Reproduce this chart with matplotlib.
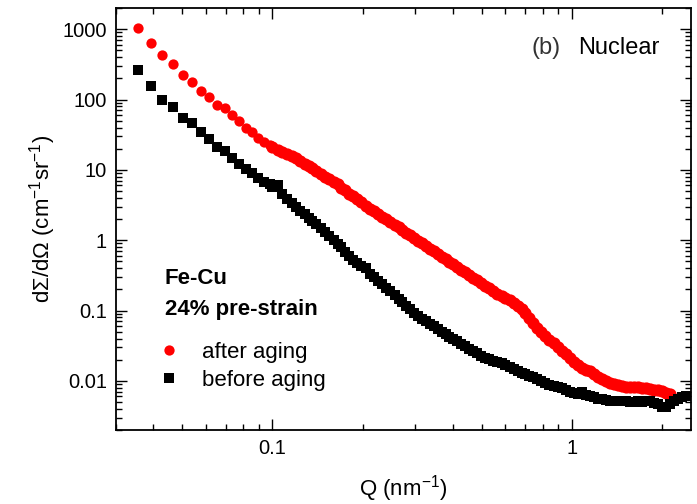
import matplotlib
matplotlib.use("Agg")
import matplotlib.pyplot as plt
from matplotlib.ticker import LogLocator, FuncFormatter, NullFormatter

plt.rcParams["font.family"] = ["Liberation Sans", "DejaVu Sans"]
plt.rcParams["mathtext.default"] = "regular"

# ── Data (Q in nm^-1, dSigma/dOmega in cm^-1 sr^-1) ──
q_low = [0.0355, 0.0392, 0.0428, 0.0466, 0.0503, 0.054, 0.0576, 0.0614, 0.0655,
         0.0694, 0.0734, 0.0773, 0.0814, 0.0855, 0.0895, 0.0935, 0.098]
q_high = [0.100, 0.104, 0.108, 0.112, 0.116, 0.120, 0.124, 0.128, 0.132, 0.136,
          0.140, 0.145, 0.150, 0.155, 0.160, 0.165, 0.170, 0.175, 0.180, 0.186,
          0.192, 0.198,
          0.205, 0.212, 0.219, 0.226, 0.233, 0.240, 0.248, 0.256, 0.264, 0.272,
          0.280, 0.289, 0.298, 0.307, 0.316, 0.326, 0.336, 0.346, 0.357, 0.368,
          0.379, 0.390,
          0.402, 0.415, 0.428, 0.441, 0.455, 0.469, 0.484, 0.499, 0.515, 0.531,
          0.548, 0.565, 0.583, 0.601, 0.620, 0.640, 0.660, 0.680, 0.700, 0.722,
          0.745, 0.768, 0.792,
          0.817, 0.843, 0.870, 0.897, 0.925, 0.954, 0.984, 1.015, 1.047, 1.080,
          1.114, 1.149, 1.185, 1.222, 1.260, 1.300, 1.341, 1.383, 1.426, 1.471,
          1.517, 1.565, 1.614, 1.665, 1.717, 1.771, 1.827, 1.884, 1.943, 2.004,
          2.067, 2.132, 2.199, 2.268, 2.339, 2.41]

after_low = [1047, 628, 428, 319, 222, 179, 133, 109, 83, 75, 60, 49, 40, 34,
             28.5, 25, 22.4]
after_high = [21.0, 19.3, 18.0, 16.8, 15.8, 14.6, 13.4, 12.3, 11.4, 10.6,
              9.6, 8.8, 8.0, 7.3, 6.7, 6.2, 5.6, 5.1, 4.6, 4.2,
              3.8, 3.5,
              3.08, 2.81, 2.56, 2.35, 2.16, 1.98, 1.81, 1.655, 1.52, 1.395,
              1.28, 1.17, 1.07, 0.983, 0.905, 0.827, 0.758, 0.696, 0.636, 0.582,
              0.535, 0.492,
              0.453, 0.414, 0.380, 0.349, 0.320, 0.294, 0.269, 0.247, 0.226, 0.207,
              0.190, 0.174, 0.160, 0.149, 0.139, 0.128, 0.117, 0.106, 0.091, 0.078,
              0.067, 0.057, 0.049,
              0.043, 0.038, 0.034, 0.030, 0.027, 0.024, 0.0210, 0.0186, 0.0167, 0.0152,
              0.0143, 0.0138, 0.0125, 0.0114, 0.0105, 0.0098, 0.0093, 0.0089, 0.0086, 0.0084,
              0.0082, 0.0082, 0.0081, 0.0081, 0.0080, 0.0078, 0.0076, 0.0075, 0.0074, 0.0071,
              0.0068, 0.0064]

before_low = [259, 157, 100, 79, 55, 46, 35, 27.3, 20.8, 18.4, 14.8, 12.3, 10.2,
              8.9, 7.55, 6.75, 6.2]
before_high = [5.7, 6.0, 4.6, 3.9, 3.4, 2.96, 2.63, 2.34, 2.09, 1.88,
               1.69, 1.49, 1.31, 1.15, 1.01, 0.89, 0.79, 0.67, 0.59, 0.53,
               0.47, 0.43,
               0.40, 0.332, 0.295, 0.263, 0.236, 0.212, 0.189, 0.166, 0.147, 0.131,
               0.117, 0.1036, 0.092, 0.083, 0.0765, 0.070, 0.0644, 0.0593, 0.0543, 0.0499,
               0.0459, 0.0424,
               0.0394, 0.0363, 0.0336, 0.0311, 0.0287, 0.0266, 0.0245, 0.0227, 0.021, 0.0203,
               0.0194, 0.0185, 0.0178, 0.0168, 0.0158, 0.0146, 0.0136, 0.0128, 0.0124, 0.0119,
               0.0114, 0.0106, 0.0098,
               0.0093, 0.0088, 0.0085, 0.0082, 0.0078, 0.0073, 0.0069, 0.0067, 0.0066, 0.0070,
               0.0063, 0.0060, 0.0058, 0.0056, 0.0055, 0.0054, 0.0052, 0.0051, 0.0051, 0.0052,
               0.0051, 0.0050, 0.0050, 0.0051, 0.0050, 0.0052, 0.0051, 0.0049, 0.0047, 0.0042,
               0.0043, 0.0047, 0.0052, 0.0056, 0.0058, 0.0060]

x_ticks = [0.1, 1]
y_ticks = [0.01, 0.1, 1, 10, 100, 1000]

RED = "#ff0000"
BLACK = "#000000"

fig = plt.figure(figsize=(6.97, 5.04), dpi=100)
ax = fig.add_axes([0.1664, 0.1468, 0.8246, 0.8373])

# sparse low-Q points keep their own size, the dense high-Q run overlaps into a band
ax.plot(q_low, after_low, "o", color=RED, ms=7.4, mew=0, label="after aging", zorder=3)
ax.plot(q_high[:len(after_high)], after_high, "o", color=RED, ms=8.8, mew=0, zorder=3)
ax.plot(q_low, before_low, "s", color=BLACK, ms=6.5, mew=0, label="before aging", zorder=4)
ax.plot(q_high[:len(before_high)], before_high, "s", color=BLACK, ms=7.6, mew=0, zorder=4)

ax.set_xscale("log")
ax.set_yscale("log")
ax.set_xlim(0.03, 2.5)
ax.set_ylim(0.002, 2000)

fmt = FuncFormatter(lambda v, p: "%g" % v)
ax.set_xticks(x_ticks)
ax.set_yticks(y_ticks)
ax.xaxis.set_minor_locator(LogLocator(base=10, subs=range(2, 10)))
ax.yaxis.set_minor_locator(LogLocator(base=10, subs=range(2, 10), numticks=20))
ax.xaxis.set_major_formatter(fmt)
ax.yaxis.set_major_formatter(fmt)
ax.xaxis.set_minor_formatter(NullFormatter())
ax.yaxis.set_minor_formatter(NullFormatter())

ax.tick_params(which="both", direction="in", top=True, right=True,
               labelsize=14.5, width=1.0)
ax.tick_params(which="major", length=8, pad=6.5)
ax.tick_params(which="minor", length=4.5)
for s in ax.spines.values():
    s.set_linewidth(1.3)

ax.set_xlabel("Q (nm$^{-1}$)", fontsize=16, labelpad=11)
ax.set_ylabel("d\u03a3/d\u03a9 (cm$^{-1}$sr$^{-1}$)", fontsize=16, labelpad=3)

fig.text(531.7 / 697, 1 - 48 / 504, "(b)", fontsize=17, color="#333333",
         va="center", ha="left")
fig.text(578 / 697, 1 - 48 / 504, "Nuclear", fontsize=17, color=BLACK,
         va="center", ha="left")

fig.text(165 / 697, 1 - 284 / 504, "Fe-Cu", fontsize=16, fontweight="bold",
         va="baseline", ha="left")
fig.text(165 / 697, 1 - 315 / 504, "24% pre-strain", fontsize=16,
         fontweight="bold", va="baseline", ha="left")

ax.legend(loc="upper left", bbox_to_anchor=(0.046, 0.245), frameon=False,
          fontsize=16, handlelength=1.0, handletextpad=1.0, labelspacing=0.3,
          borderpad=0.2)

fig.savefig("out.png", dpi=100, facecolor="white")
